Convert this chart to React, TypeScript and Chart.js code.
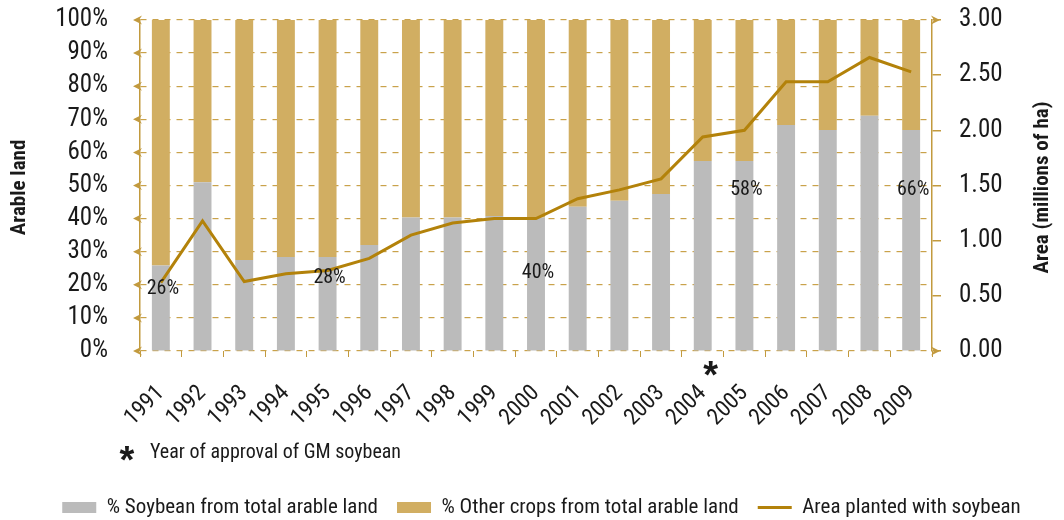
import React, { useEffect, useRef } from 'react';
import { Chart, registerables } from 'chart.js';

Chart.register(...registerables);

const years = ['1991', '1992', '1993', '1994', '1995', '1996', '1997', '1998', '1999', '2000', '2001', '2002', '2003', '2004', '2005', '2006', '2007', '2008', '2009'];
const soybeanShare = [25.8, 51.0, 27.5, 28.4, 28.4, 32.0, 40.3, 40.3, 40.8, 40.3, 43.6, 45.4, 47.4, 57.4, 57.4, 68.3, 66.8, 71.1, 66.8];
const otherShare = [74.2, 49.0, 72.5, 71.6, 71.6, 68.0, 59.7, 59.7, 59.2, 59.7, 56.4, 54.6, 52.6, 42.6, 42.6, 31.7, 33.2, 28.9, 33.2];
const areaPlanted = [0.62, 1.18, 0.63, 0.70, 0.73, 0.84, 1.05, 1.16, 1.20, 1.20, 1.38, 1.46, 1.56, 1.94, 2.00, 2.44, 2.44, 2.66, 2.53];

const shareLabelYears = ['1991', '1995', '2000', '2005', '2009'];
const shareLabelTexts = ['26%', '28%', '40%', '58%', '66%'];
const shareLabelLevels = [18.7, 22.1, 23.6, 48.6, 48.6];

const approvalYear = '2004';
const footnoteText = 'Year of approval of GM soybean';
const leftTitle = 'Arable land';
const rightTitle = 'Area (millions of ha)';

const FAMILY = 'Roboto, sans-serif';
const COND = 'condensed';
const GRAY = '#BBBBBB';
const GOLD = '#D1AE62';
const LINE = '#B3820A';
const AXIS = '#C29A3E';
const GRID = '#C9A24A';
const TEXT = '#1a1a1a';

const decorPlugin = {
  id: 'decor',
  afterDraw(chart: any) {
    const { ctx, chartArea, scales } = chart;
    const { left, right, top, bottom } = chartArea;
    const x = scales.x;
    const y = scales.y;
    ctx.save();

    // arrow heads on axes
    ctx.fillStyle = AXIS;
    const tri = (tipX: number, cy: number, dir: number) => {
      ctx.beginPath();
      ctx.moveTo(tipX, cy);
      ctx.lineTo(tipX - dir * 9, cy - 4.5);
      ctx.lineTo(tipX - dir * 6, cy);
      ctx.lineTo(tipX - dir * 9, cy + 4.5);
      ctx.closePath();
      ctx.fill();
    };
    y.ticks.forEach((t: any) => tri(left - 7, y.getPixelForValue(t.value), -1));
    tri(right + 8, top, 1);
    tri(right + 8, bottom, 1);

    // data labels
    ctx.fillStyle = TEXT;
    ctx.font = `${COND} 20px ${FAMILY}`;
    ctx.textAlign = 'center';
    ctx.textBaseline = 'middle';
    shareLabelYears.forEach((yr, i) => {
      const idx = years.indexOf(yr);
      ctx.fillText(shareLabelTexts[i], x.getPixelForValue(idx) + 2, y.getPixelForValue(shareLabelLevels[i]));
    });

    // asterisks
    const star = (cx: number, cy: number) => {
      ctx.font = `bold 38px 'Liberation Sans', sans-serif`;
      ctx.textAlign = 'center';
      ctx.textBaseline = 'alphabetic';
      const m = ctx.measureText('*');
      ctx.fillText('*', cx, cy + (m.actualBoundingBoxAscent - m.actualBoundingBoxDescent) / 2);
    };
    star(x.getPixelForValue(years.indexOf(approvalYear)) + 8, bottom + 17);
    star(127, 453);

    ctx.font = `${COND} 20px ${FAMILY}`;
    ctx.textAlign = 'left';
    ctx.textBaseline = 'middle';
    ctx.fillText(footnoteText, 150, 453);

    // axis titles
    ctx.font = `bold ${COND} 21px ${FAMILY}`;
    ctx.textAlign = 'center';
    ctx.textBaseline = 'middle';
    const midY = (top + bottom) / 2 + 2;
    ctx.save();
    ctx.translate(20, midY);
    ctx.rotate(-Math.PI / 2);
    ctx.fillText(leftTitle, 0, 0);
    ctx.restore();
    ctx.save();
    ctx.translate(1043, midY);
    ctx.rotate(-Math.PI / 2);
    ctx.fillText(rightTitle, 0, 0);
    ctx.restore();

    ctx.restore();
  },
};

export default function App() {
  const ref = useRef<HTMLCanvasElement | null>(null);

  useEffect(() => {
    if (!ref.current) return;
    const chart = new Chart(ref.current, {
      type: 'bar',
      data: {
        labels: years,
        datasets: [
          {
            type: 'bar',
            label: '% Soybean from total arable land',
            data: soybeanShare,
            backgroundColor: GRAY,
            yAxisID: 'y',
            order: 1,
            barPercentage: 0.43,
            categoryPercentage: 1,
          },
          {
            type: 'bar',
            label: '% Other crops from total arable land',
            data: otherShare,
            backgroundColor: GOLD,
            yAxisID: 'y',
            order: 1,
            barPercentage: 0.43,
            categoryPercentage: 1,
          },
          {
            type: 'line',
            label: 'Area planted with soybean',
            data: areaPlanted,
            borderColor: LINE,
            backgroundColor: LINE,
            borderWidth: 3,
            pointRadius: 0,
            tension: 0,
            yAxisID: 'y2',
            order: 0,
          },
        ] as any,
      },
      options: {
        animation: false,
        responsive: false,
        layout: { padding: { top: 20, left: 19, right: 0, bottom: 0 } },
        plugins: {
          tooltip: { enabled: false },
          legend: {
            position: 'bottom',
            maxHeight: 42,
            labels: {
              font: { family: FAMILY, size: 21, weight: COND },
              color: TEXT,
              usePointStyle: true,
              pointStyleWidth: 34,
              boxHeight: 11,
              padding: 19,
              generateLabels: (c: any) =>
                c.data.datasets.map((ds: any, i: number) => ({
                  text: ds.label,
                  fillStyle: ds.type === 'line' ? ds.borderColor : ds.backgroundColor,
                  strokeStyle: ds.type === 'line' ? ds.borderColor : ds.backgroundColor,
                  lineWidth: ds.type === 'line' ? 3 : 0,
                  pointStyle: ds.type === 'line' ? 'line' : 'rect',
                  hidden: false,
                  datasetIndex: i,
                  fontColor: TEXT,
                })),
            },
          },
        },
        scales: {
          x: {
            stacked: true,
            offset: true,
            grid: {
              offset: true,
              drawOnChartArea: false,
              drawTicks: true,
              tickLength: 6,
              color: AXIS,
              lineWidth: 1,
            },
            border: { display: false },
            ticks: {
              color: TEXT,
              font: { family: FAMILY, size: 23, weight: COND },
              minRotation: 45,
              maxRotation: 45,
              autoSkip: false,
              padding: 23,
            },
            afterFit: (s: any) => {
              s.height = 127;
              s.paddingLeft = 0;
              s.paddingRight = 0;
            },
          },
          y: {
            stacked: true,
            position: 'left',
            min: 0,
            max: 100,
            grid: {
              color: GRID,
              lineWidth: 1.2,
              drawTicks: false,
            },
            border: { display: true, color: AXIS, width: 1.5, dash: [6, 6] },
            ticks: {
              count: 11,
              color: TEXT,
              font: { family: FAMILY, size: 25, weight: COND },
              padding: 32,
              callback: (v: any) => `${Math.round(v)}%`,
            },
            afterFit: (s: any) => {
              s.width = 121;
              s.paddingTop = 0;
              s.paddingBottom = 0;
            },
          },
          y2: {
            position: 'right',
            min: 0,
            max: 3,
            grid: {
              drawOnChartArea: false,
              drawTicks: true,
              tickLength: 9,
              color: AXIS,
              lineWidth: 1.5,
            },
            border: { display: true, color: AXIS, width: 1.5 },
            ticks: {
              count: 7,
              color: TEXT,
              font: { family: FAMILY, size: 25, weight: COND },
              padding: 18,
              callback: (v: any) => Number(v).toFixed(2),
            },
            afterFit: (s: any) => {
              s.width = 132;
              s.paddingTop = 0;
              s.paddingBottom = 0;
            },
          },
        },
      } as any,
      plugins: [decorPlugin],
    });
    return () => chart.destroy();
  }, []);

  return (
    <div style={{ position: 'absolute', left: 0, top: 0, width: 1064, height: 520, background: '#fff' }}>
      <canvas ref={ref} width={1064} height={520} style={{ display: 'block' }} />
    </div>
  );
}
